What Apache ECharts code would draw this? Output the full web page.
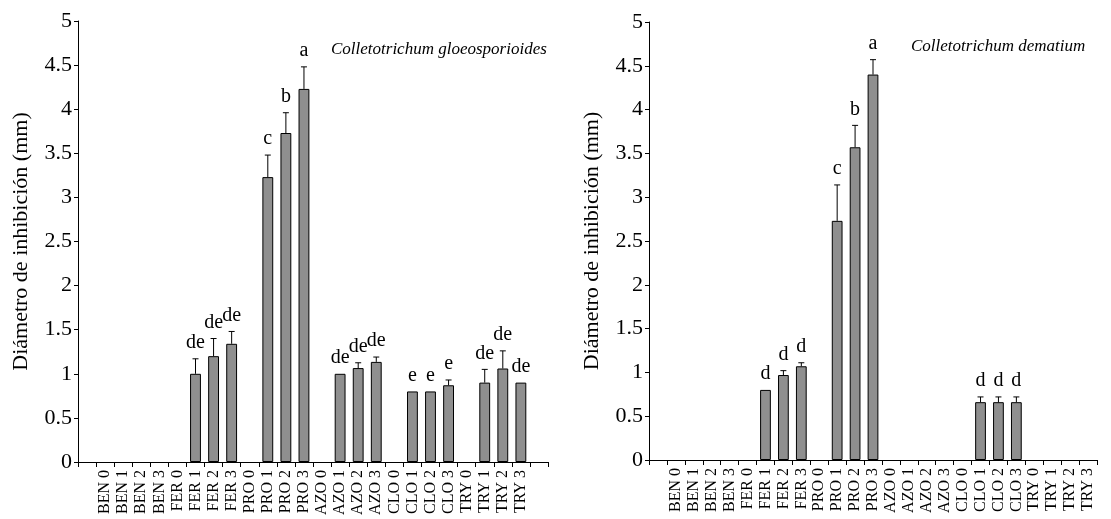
<!DOCTYPE html>
<html>
<head>
<meta charset="utf-8">
<script src="https://cdn.jsdelivr.net/npm/echarts@6/dist/echarts.min.js"></script>
<style>
html,body{margin:0;padding:0;background:#fff;}
#chart{width:1111px;height:519px;}
</style>
</head>
<body>
<div id="chart"></div>
<script>
// ---- data ----
const treatments = ['BEN 0','BEN 1','BEN 2','BEN 3','FER 0','FER 1','FER 2','FER 3','PRO 0','PRO 1','PRO 2','PRO 3',
  'AZO 0','AZO 1','AZO 2','AZO 3','CLO 0','CLO 1','CLO 2','CLO 3','TRY 0','TRY 1','TRY 2','TRY 3'];
const leftCategories = [''].concat(treatments, ['']);
const rightCategories = [''].concat(treatments);

const leftTitle = 'Colletotrichum gloeosporioides';
const rightTitle = 'Colletotrichum dematium';
const yAxisName = 'Diámetro de inhibición (mm)';

const leftValues = [0,0,0,0, 0,1.00,1.20,1.34, 0,3.23,3.73,4.23, 0,1.00,1.065,1.135, 0,0.80,0.80,0.87, 0,0.90,1.06,0.90];
const leftSD     = [0,0,0,0, 0,0.17,0.20,0.14, 0,0.25,0.23,0.25, 0,0,0.06,0.055, 0,0,0,0.06, 0,0.15,0.20,0];
const leftLetters= ['','','','', '','de','de','de', '','c','b','a', '','de','de','de', '','e','e','e', '','de','de','de'];

const rightValues = [0,0,0,0, 0,0.80,0.97,1.07, 0,2.73,3.57,4.40, 0,0,0,0, 0,0.66,0.66,0.66, 0,0,0,0];
const rightSD     = [0,0,0,0, 0,0,0.05,0.04, 0,0.41,0.25,0.17, 0,0,0,0, 0,0.06,0.06,0.06, 0,0,0,0];
const rightLetters= ['','','','', '','d','d','d', '','c','b','a', '','','','', '','d','d','d', '','','',''];

// ---- chart ----
const FONT = '"Liberation Serif", "Times New Roman", serif';
const chart = echarts.init(document.getElementById('chart'));

function barData(values){ return ['-'].concat(values.map(function(v){ return v > 0 ? v : '-'; })); }
function errData(values, sd, letters){
  const out = [];
  values.forEach(function(v,i){ if (v > 0) out.push({value:[i+1, v, sd[i]], letter: letters[i]}); });
  return out;
}
function makeRender(items){
  return function(params, api){
    const x = api.value(0), v = api.value(1), s = api.value(2);
    const base = api.coord([x, v]);
    const top = api.coord([x, v + s]);
    const children = [];
    if (s > 0) {
      children.push({type:'line', shape:{x1:base[0], y1:base[1], x2:top[0], y2:top[1]}, style:{stroke:'#000', lineWidth:1}});
      children.push({type:'line', shape:{x1:top[0]-3, y1:top[1], x2:top[0]+3, y2:top[1]}, style:{stroke:'#000', lineWidth:1}});
    }
    const letter = items[params.dataIndex].letter;
    if (letter) {
      children.push({type:'text', style:{text:letter, x:top[0], y:top[1]-6, align:'center', verticalAlign:'bottom',
        fill:'#000', font:'20px ' + FONT}});
    }
    return {type:'group', children:children};
  };
}

function yAxis(gridIndex){
  return {
    type:'value', gridIndex:gridIndex, min:0, max:5, interval:0.5,
    name:yAxisName, nameLocation:'middle', nameGap:46,
    nameTextStyle:{fontFamily:FONT, fontSize:22, color:'#000'},
    axisLine:{show:true, lineStyle:{color:'#000', width:1}},
    axisTick:{show:true, length:4, lineStyle:{color:'#000'}},
    axisLabel:{fontFamily:FONT, fontSize:22, color:'#000', margin:6},
    splitLine:{show:false}
  };
}
function xAxis(gridIndex, cats){
  return {
    type:'category', gridIndex:gridIndex, data:cats, boundaryGap:true,
    axisLine:{show:true, lineStyle:{color:'#000', width:1}},
    axisTick:{show:true, interval:0, length:5, lineStyle:{color:'#000'}},
    axisLabel:{interval:0, rotate:90, fontFamily:FONT, fontSize:16, color:'#000', margin:8},
    splitLine:{show:false}
  };
}

const leftErr = errData(leftValues, leftSD, leftLetters);
const rightErr = errData(rightValues, rightSD, rightLetters);

chart.setOption({
  animation:false,
  backgroundColor:'#fff',
  title:[
    {text:leftTitle, left:326, top:36, textStyle:{fontFamily:FONT, fontStyle:'italic', fontWeight:'normal', fontSize:17, color:'#000'}},
    {text:rightTitle, left:906, top:33, textStyle:{fontFamily:FONT, fontStyle:'italic', fontWeight:'normal', fontSize:17, color:'#000'}}
  ],
  grid:[
    {left:78, right:563, top:21, bottom:57},
    {left:649, right:14, top:22, bottom:59}
  ],
  xAxis:[xAxis(0, leftCategories), xAxis(1, rightCategories)],
  yAxis:[yAxis(0), yAxis(1)],
  series:[
    {type:'bar', xAxisIndex:0, yAxisIndex:0, data:barData(leftValues), barWidth:'60%',
      itemStyle:{color:'#8f8f8f', borderColor:'#000', borderWidth:1}},
    {type:'custom', xAxisIndex:0, yAxisIndex:0, data:leftErr, renderItem:makeRender(leftErr), z:5, clip:false},
    {type:'bar', xAxisIndex:1, yAxisIndex:1, data:barData(rightValues), barWidth:'60%',
      itemStyle:{color:'#8f8f8f', borderColor:'#000', borderWidth:1}},
    {type:'custom', xAxisIndex:1, yAxisIndex:1, data:rightErr, renderItem:makeRender(rightErr), z:5, clip:false}
  ]
});
</script>
</body>
</html>
